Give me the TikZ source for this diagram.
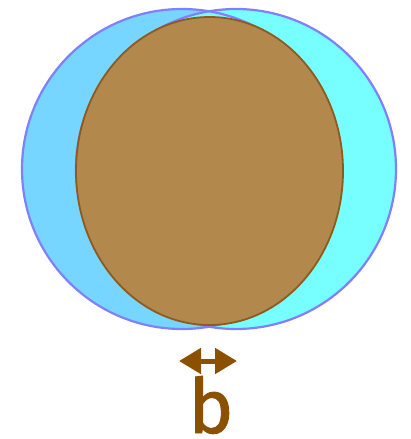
\documentclass[tikz,border=0pt]{standalone}
\usepackage{fontspec}
\newfontfamily\bfont[FakeBold=1.2]{Fira Sans}
\usetikzlibrary{arrows.meta}
\definecolor{lblue}{HTML}{77D6FF}
\definecolor{lcyan}{HTML}{77FFFF}
\definecolor{rim}{HTML}{8080FF}
\definecolor{tan}{HTML}{B3884C}
\definecolor{tanrim}{HTML}{8F5A1E}
\definecolor{brn}{HTML}{8B5000}
\begin{document}
\begin{tikzpicture}[x=1pt,y=-1pt,
  rimline/.style={draw=rim,line width=2.2pt},
  gap/.style={brn,line width=5pt,{Triangle[length=22pt 0,width=25pt 0]}-{Triangle[length=22pt 0,width=25pt 0]}}]
\useasboundingbox (0,0) rectangle (411,439);
\coordinate (cl) at (182,169);
\coordinate (cr) at (236,169);
\fill[lblue] (cl) circle[radius=160];
\fill[lcyan] (cr) circle[radius=160];
\draw[rimline] (cl) circle[radius=160];
\draw[rimline] (cr) circle[radius=160];
\draw[fill=tan,draw=tanrim,line width=1.8pt] (209.5,171) ellipse[x radius=133.5,y radius=154];
\coordinate (al) at (179,361);
\coordinate (ar) at (237,361);
\draw[gap] (al) -- (ar);
\node[text=brn,font=\bfont\fontsize{76}{76}\selectfont,anchor=base,inner sep=0pt] (lab) at (211,433) {b};
\end{tikzpicture}
\end{document}
